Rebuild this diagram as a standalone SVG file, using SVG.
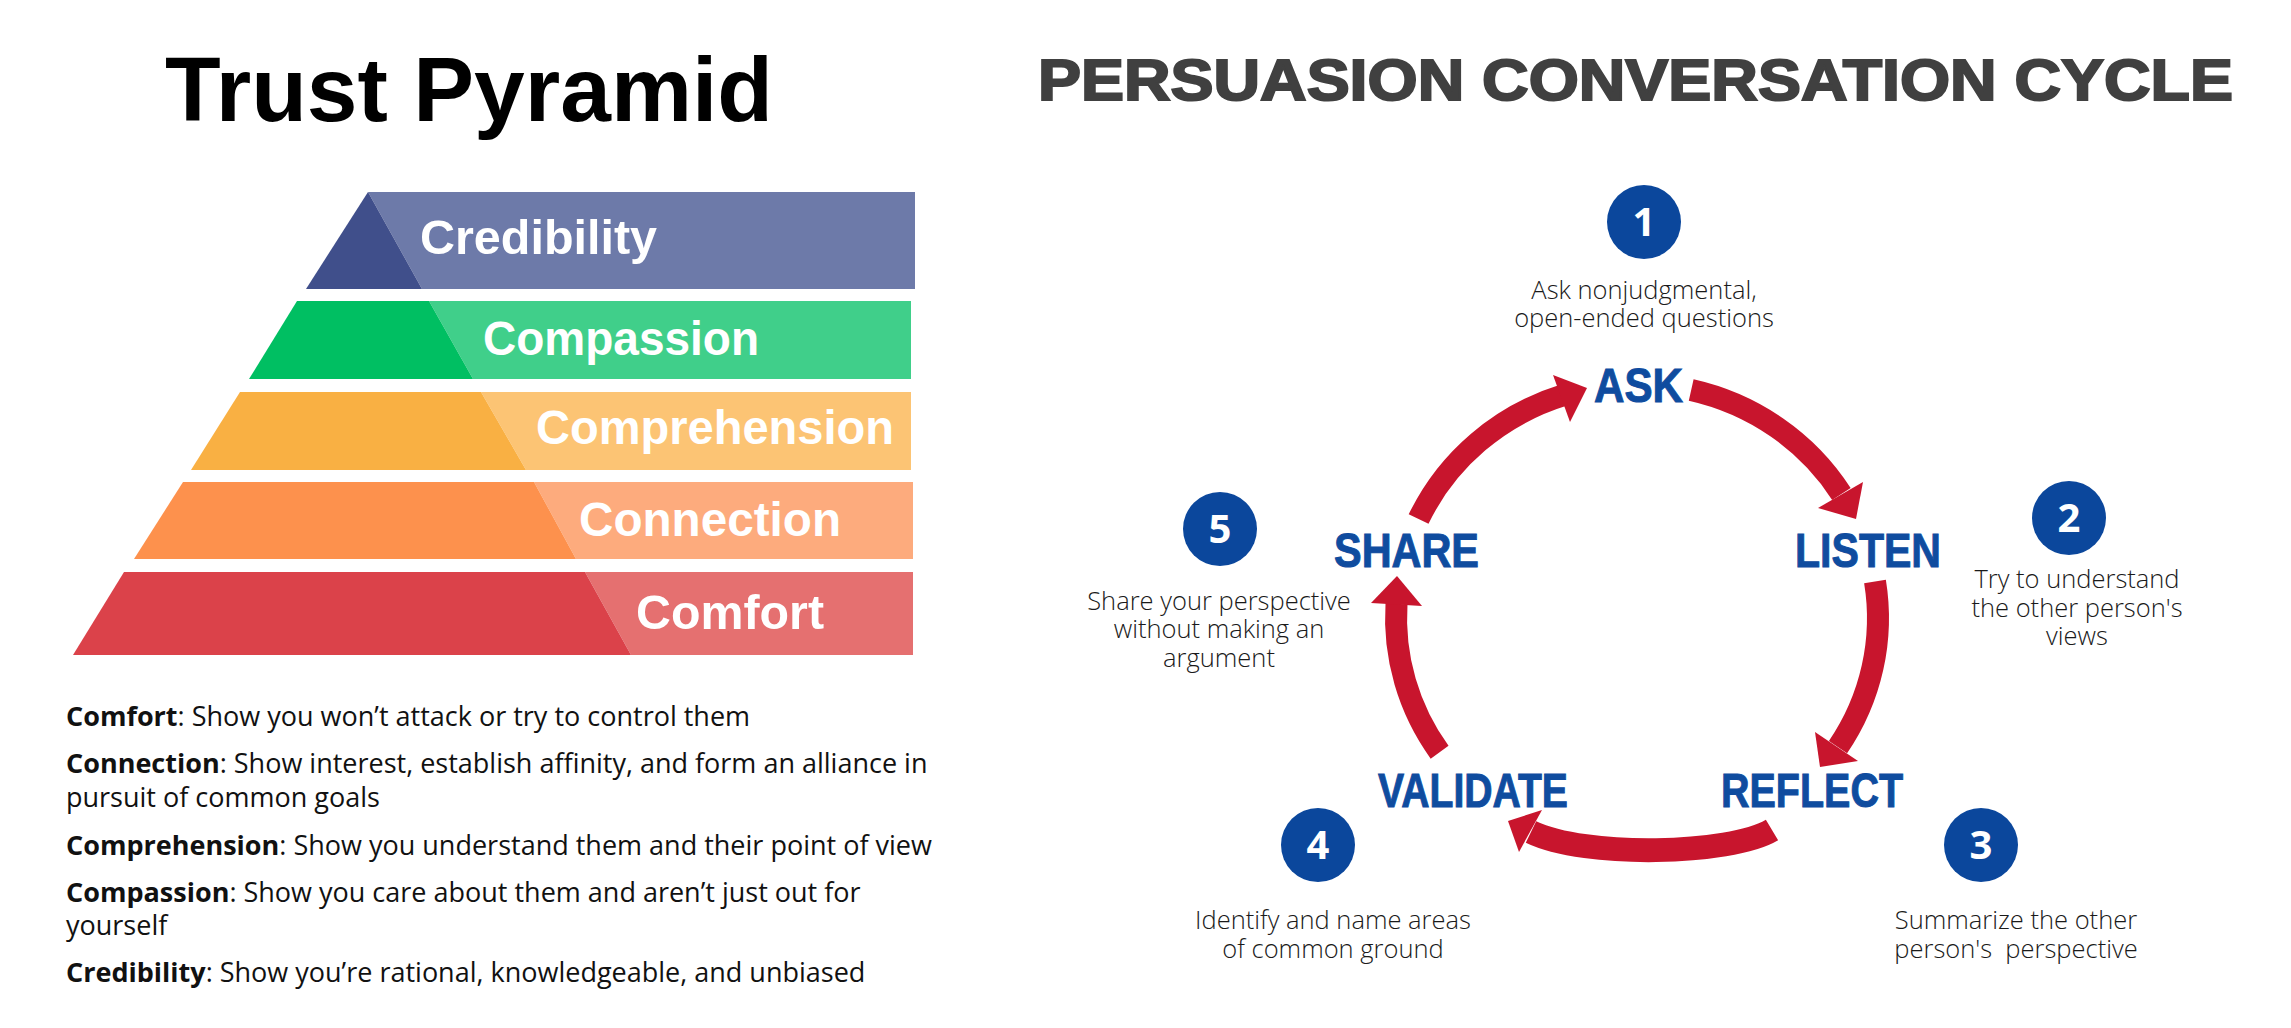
<svg xmlns="http://www.w3.org/2000/svg" width="2291" height="1028" viewBox="0 0 2291 1028">
<style>
.title{font-family:"Liberation Sans",Arial,sans-serif;font-weight:700;fill:#000}
.ptitle{font-family:"Liberation Sans",Arial,sans-serif;font-weight:700;fill:#404040;stroke:#404040;stroke-width:2}
.lvl{font-family:"Liberation Sans",Arial,sans-serif;font-weight:700;font-size:48px;fill:#fff}
.desc{font-family:"Open Sans","Liberation Sans",sans-serif;font-size:27px;fill:#111}
.desc .b{font-weight:700}
.step{font-family:"Liberation Sans",Arial,sans-serif;font-weight:700;font-size:49px;fill:#0f4c9f;stroke:#0f4c9f;stroke-width:1}
.num{fill:#0b479c}
.numt{font-family:"Open Sans","Liberation Sans",sans-serif;font-weight:700;font-size:40px;fill:#fff;text-anchor:middle}
.note{font-family:"Open Sans","Liberation Sans",sans-serif;font-weight:300;font-size:25.5px;fill:#1a1a1a;text-anchor:middle}
.arc{fill:none;stroke:#c8152d;stroke-width:22}
.head{fill:#c8152d}
</style>
<rect width="2291" height="1028" fill="#fff"/>

<text class="title" x="165" y="121" font-size="90" textLength="608" lengthAdjust="spacingAndGlyphs">Trust Pyramid</text>

<g id="level-credibility">
<polygon points="368,192 915,192 915,289 422,289" fill="#6d7aa9"/>
<polygon points="368,192 422,289 306,289" fill="#404f8b"/>
<text class="lvl" x="420" y="254" textLength="237" lengthAdjust="spacingAndGlyphs">Credibility</text>
</g>
<g id="level-compassion">
<polygon points="429,301 911,301 911,379 473,379" fill="#40cf8a"/>
<polygon points="297,301 429,301 473,379 249,379" fill="#00bf62"/>
<text class="lvl" x="483" y="355" textLength="276" lengthAdjust="spacingAndGlyphs">Compassion</text>
</g>
<g id="level-comprehension">
<polygon points="481,392 911,392 911,470 526,470" fill="#fcc474"/>
<polygon points="240,392 481,392 526,470 191,470" fill="#f9b043"/>
<text class="lvl" x="536" y="444" textLength="358" lengthAdjust="spacingAndGlyphs">Comprehension</text>
</g>
<g id="level-connection">
<polygon points="534,482 913,482 913,559 576,559" fill="#fdab7d"/>
<polygon points="183,482 534,482 576,559 134,559" fill="#fd914d"/>
<text class="lvl" x="579" y="536" textLength="262" lengthAdjust="spacingAndGlyphs">Connection</text>
</g>
<g id="level-comfort">
<polygon points="585,572 913,572 913,655 631,655" fill="#e57070"/>
<polygon points="124,572 585,572 631,655 73,655" fill="#db424a"/>
<text class="lvl" x="636" y="629" textLength="188" lengthAdjust="spacingAndGlyphs">Comfort</text>
</g>

<g id="definitions">
<text class="desc" x="66" y="726"><tspan class="b">Comfort</tspan>: Show you won’t attack or try to control them</text>
<text class="desc" x="66" y="773"><tspan class="b">Connection</tspan>: Show interest, establish affinity, and form an alliance in<tspan x="66" y="807">pursuit of common goals</tspan></text>
<text class="desc" x="66" y="855"><tspan class="b">Comprehension</tspan>: Show you understand them and their point of view</text>
<text class="desc" x="66" y="902"><tspan class="b">Compassion</tspan>: Show you care about them and aren’t just out for<tspan x="66" y="935">yourself</tspan></text>
<text class="desc" x="66" y="982"><tspan class="b">Credibility</tspan>: Show you’re rational, knowledgeable, and unbiased</text>
</g>

<text class="ptitle" x="1038" y="100" font-size="57" textLength="1195" lengthAdjust="spacingAndGlyphs">PERSUASION CONVERSATION CYCLE</text>

<g id="connectors">
<path class="arc" d="M1418.6 519.1 A241 234 0 0 1 1564 395"/>
<polygon class="head" points="1587,388 1553,375 1570,422"/>
<path class="arc" d="M1691.2 390 A241 234 0 0 1 1841.4 494"/>
<polygon class="head" points="1856,519 1818,508 1863,482"/>
<path class="arc" d="M1875 581.4 A241 234 0 0 1 1838 747.1"/>
<polygon class="head" points="1820,767 1815,732 1858,761"/>
<path class="arc" style="stroke-width:24" d="M1772 830 C1730 855 1585 858 1531 832"/>
<polygon class="head" points="1508,821 1542,810 1519,852"/>
<path class="arc" d="M1439.6 752.2 A241 234 0 0 1 1396.5 603.7"/>
<polygon class="head" points="1397,576 1371,603 1422,606"/>
</g>

<g id="step-ask">
<circle class="num" cx="1644" cy="222" r="37"/>
<text class="numt" x="1644" y="236">1</text>
<text class="note" x="1644" y="299">Ask nonjudgmental,<tspan x="1644" y="327">open-ended questions</tspan></text>
<text class="step" x="1594" y="402" textLength="89" lengthAdjust="spacingAndGlyphs">ASK</text>
</g>
<g id="step-listen">
<circle class="num" cx="2069" cy="518" r="37"/>
<text class="numt" x="2069" y="532">2</text>
<text class="note" x="2077" y="588">Try to understand<tspan x="2077" y="617">the other person's</tspan><tspan x="2077" y="645">views</tspan></text>
<text class="step" x="1795" y="567" textLength="146" lengthAdjust="spacingAndGlyphs">LISTEN</text>
</g>
<g id="step-reflect">
<circle class="num" cx="1981" cy="845" r="37"/>
<text class="numt" x="1981" y="859">3</text>
<text class="note" x="2016" y="929">Summarize the other<tspan x="2016" y="958">person's&#160; perspective</tspan></text>
<text class="step" x="1721" y="807" font-size="51" textLength="182" lengthAdjust="spacingAndGlyphs">REFLECT</text>
</g>
<g id="step-validate">
<circle class="num" cx="1318" cy="845" r="37"/>
<text class="numt" x="1318" y="859">4</text>
<text class="note" x="1333" y="929">Identify and name areas<tspan x="1333" y="958">of common ground</tspan></text>
<text class="step" x="1378" y="807" font-size="52" textLength="190" lengthAdjust="spacingAndGlyphs">VALIDATE</text>
</g>
<g id="step-share">
<circle class="num" cx="1220" cy="529" r="37"/>
<text class="numt" x="1220" y="543">5</text>
<text class="note" x="1219" y="610">Share your perspective<tspan x="1219" y="638">without making an</tspan><tspan x="1219" y="667">argument</tspan></text>
<text class="step" x="1334" y="567" textLength="145" lengthAdjust="spacingAndGlyphs">SHARE</text>
</g>
</svg>
